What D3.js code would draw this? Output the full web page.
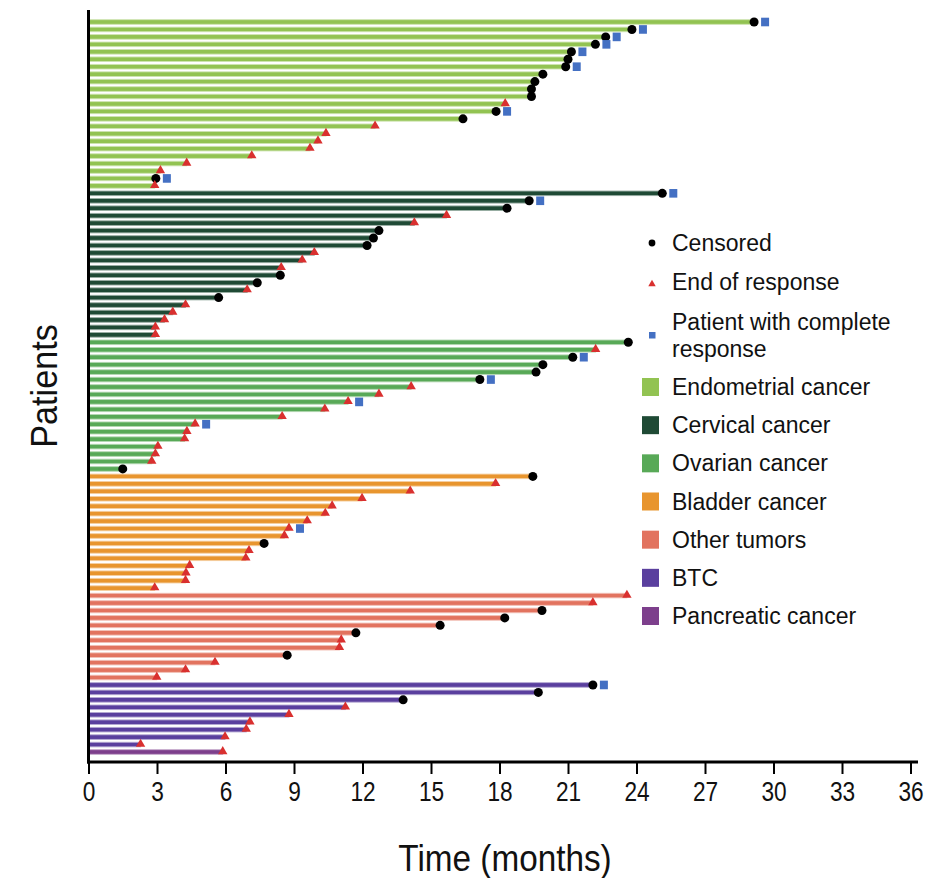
<!DOCTYPE html>
<html>
<head>
<meta charset="utf-8">
<script src="https://cdn.jsdelivr.net/npm/d3@7"></script>
<style>
  html, body { margin: 0; padding: 0; background: #fff; }
  svg { display: block; }
  .tick text { font-family: "Liberation Sans", Arial, sans-serif; }
</style>
</head>
<body>
<svg id="chart" width="935" height="878"></svg>
<script>
// ---------- DATA ----------
const groupNames = ["Endometrial cancer", "Cervical cancer", "Ovarian cancer", "Bladder cancer", "Other tumors", "BTC", "Pancreatic cancer"];
const groupColors = ["#92c352", "#1f4a35", "#58a957", "#e8952e", "#e2735f", "#5a3f9e", "#7d3f8c"];

// duration in months; event: "c" = censored, "t" = end of response; cr: 1 = complete response
const endometrialMonths = [29.15, 23.8, 22.65, 22.2, 21.15, 21.0, 20.9, 19.9, 19.55, 19.4, 19.4, 18.25, 17.85, 16.4, 12.55, 10.4, 10.05, 9.7, 7.15, 4.3, 3.15, 2.95, 2.9];
const endometrialEvent  = ["c","c","c","c","c","c","c","c","c","c","c","t","c","c","t","t","t","t","t","t","t","c","t"];
const endometrialCR     = [1,1,1,1,1,0,1,0,0,0,0,0,1,0,0,0,0,0,0,0,0,1,0];

const cervicalMonths = [25.13, 19.3, 18.33, 15.68, 14.27, 12.72, 12.48, 12.2, 9.89, 9.36, 8.44, 8.4, 7.39, 6.95, 5.7, 4.25, 3.69, 3.33, 2.93, 2.93];
const cervicalEvent  = ["c","c","c","t","t","c","c","c","t","t","t","c","c","t","c","t","t","t","t","t"];
const cervicalCR     = [1,1,0,0,0,0,0,0,0,0,0,0,0,0,0,0,0,0,0,0];

const ovarianMonths = [23.64, 22.21, 21.21, 19.9, 19.6, 17.14, 14.13, 12.72, 11.37, 10.35, 8.48, 4.67, 4.31, 4.21, 3.04, 2.93, 2.77, 1.5];
const ovarianEvent  = ["c","t","c","c","c","c","t","t","t","t","t","t","t","t","t","t","t","c"];
const ovarianCR     = [0,0,1,0,0,1,0,0,1,0,0,1,0,0,0,0,0,0];

const bladderMonths = [19.46, 17.83, 14.09, 11.98, 10.67, 10.37, 9.58, 8.78, 8.58, 7.69, 7.03, 6.89, 4.43, 4.27, 4.25, 2.9];
const bladderEvent  = ["c","t","t","t","t","t","t","t","t","c","t","t","t","t","t","t"];
const bladderCR     = [0,0,0,0,0,0,0,1,0,0,0,0,0,0,0,0];

const otherMonths = [23.58, 22.09, 19.86, 18.23, 15.4, 11.71, 11.07, 10.99, 8.7, 5.54, 4.25, 2.99];
const otherEvent  = ["t","t","c","c","c","c","t","t","c","t","t","t"];
const otherCR     = [0,0,0,0,0,0,0,0,0,0,0,0];

const btcMonths = [22.09, 19.7, 13.78, 11.25, 8.78, 7.07, 6.91, 5.98, 2.28];
const btcEvent  = ["c","c","c","t","t","t","t","t","t"];
const btcCR     = [1,0,0,0,0,0,0,0,0];

const pancreaticMonths = [5.88];
const pancreaticEvent  = ["t"];
const pancreaticCR     = [0];

const xTicks = [0, 3, 6, 9, 12, 15, 18, 21, 24, 27, 30, 33, 36];
const markerLegend = ["Censored", "End of response", "Patient with complete response"];

// ---------- BUILD ROWS ----------
const groupData = [
  [endometrialMonths, endometrialEvent, endometrialCR],
  [cervicalMonths, cervicalEvent, cervicalCR],
  [ovarianMonths, ovarianEvent, ovarianCR],
  [bladderMonths, bladderEvent, bladderCR],
  [otherMonths, otherEvent, otherCR],
  [btcMonths, btcEvent, btcCR],
  [pancreaticMonths, pancreaticEvent, pancreaticCR]
];
const rows = [];
groupData.forEach((g, gi) => {
  g[0].forEach((m, i) => {
    rows.push({ id: rows.length, group: gi, months: m, event: g[1][i], cr: g[2][i] });
  });
});

// ---------- SCALES ----------
const svg = d3.select("#chart");
const x = d3.scaleLinear().domain([0, 36]).range([88.5, 910.5]);
const y = d3.scalePoint().domain(rows.map(d => d.id)).range([22, 752]);
const color = d3.scaleOrdinal().domain(d3.range(groupNames.length)).range(groupColors);

// ---------- BARS ----------
const barH = 4.6;
svg.append("g").selectAll("rect")
  .data(rows).join("rect")
  .attr("x", x(0))
  .attr("y", d => y(d.id) - barH / 2)
  .attr("width", d => x(d.months) - x(0))
  .attr("height", barH)
  .attr("fill", d => color(d.group))
  .attr("stroke", d => d3.interpolateRgb(color(d.group), "#ffffff")(0.55))
  .attr("stroke-width", 0.9);

// ---------- MARKERS ----------
const markers = svg.append("g");
markers.selectAll("circle")
  .data(rows.filter(d => d.event === "c")).join("circle")
  .attr("cx", d => x(d.months))
  .attr("cy", d => y(d.id))
  .attr("r", 4.5)
  .attr("fill", "#000");

const triSym = d3.symbol().type(d3.symbolTriangle).size(38);
markers.selectAll("path.tri")
  .data(rows.filter(d => d.event === "t")).join("path")
  .attr("class", "tri")
  .attr("d", triSym)
  .attr("transform", d => `translate(${x(d.months)},${y(d.id) - 0.5})`)
  .attr("fill", "#d9302f");

markers.selectAll("rect.cr")
  .data(rows.filter(d => d.cr === 1)).join("rect")
  .attr("class", "cr")
  .attr("x", d => x(d.months) + 11 - 4)
  .attr("y", d => y(d.id) - 4.3)
  .attr("width", 8)
  .attr("height", 8.6)
  .attr("fill", "#4470c3");

// ---------- AXES ----------
const xAxis = d3.axisBottom(x).tickValues(xTicks).tickSize(12).tickPadding(8).tickSizeOuter(0);
const gx = svg.append("g").attr("transform", "translate(0,762)").call(xAxis);
gx.select(".domain").remove();
gx.selectAll(".tick line").attr("stroke", "#000").attr("stroke-width", 2);
gx.selectAll(".tick text")
  .attr("font-size", 27).attr("fill", "#111")
  .attr("transform", "scale(0.84,1)");

svg.append("line").attr("x1", 87).attr("x2", 918).attr("y1", 762).attr("y2", 762)
  .attr("stroke", "#000").attr("stroke-width", 3);
svg.append("line").attr("x1", 88.5).attr("x2", 88.5).attr("y1", 10).attr("y2", 763.5)
  .attr("stroke", "#000").attr("stroke-width", 3);

// axis titles
svg.append("text")
  .attr("transform", "translate(505,871) scale(0.9,1)")
  .attr("text-anchor", "middle")
  .attr("font-family", "'Liberation Sans', Arial, sans-serif")
  .attr("font-size", 37).attr("fill", "#111")
  .text("Time (months)");
svg.append("text")
  .attr("transform", "translate(57,386) rotate(-90) scale(0.95,1)")
  .attr("text-anchor", "middle")
  .attr("font-family", "'Liberation Sans', Arial, sans-serif")
  .attr("font-size", 36).attr("fill", "#111")
  .text("Patients");

// ---------- LEGEND ----------
const lg = svg.append("g").attr("font-family", "'Liberation Sans', Arial, sans-serif").attr("font-size", 23).attr("fill", "#111");
lg.append("circle").attr("cx", 652).attr("cy", 243).attr("r", 3.4).attr("fill", "#000");
lg.append("text").attr("x", 672).attr("y", 251).text(markerLegend[0]);
lg.append("path").attr("d", d3.symbol().type(d3.symbolTriangle).size(24)).attr("transform", "translate(652,284)").attr("fill", "#d9302f");
lg.append("text").attr("x", 672).attr("y", 290).text(markerLegend[1]);
lg.append("rect").attr("x", 649).attr("y", 332).attr("width", 6.5).attr("height", 6.5).attr("fill", "#4470c3");
const crWords = markerLegend[2].split(" ");
lg.append("text").attr("x", 672).attr("y", 330).text(crWords.slice(0, 3).join(" "));
lg.append("text").attr("x", 672).attr("y", 357).text(crWords.slice(3).join(" "));

const legendY = d3.scaleLinear().domain([0, groupNames.length - 1]).range([387, 616]);
groupNames.forEach((name, i) => {
  lg.append("rect").attr("x", 642).attr("y", legendY(i) - 9).attr("width", 17).attr("height", 18).attr("fill", groupColors[i]);
  lg.append("text").attr("x", 672).attr("y", legendY(i) + 8).text(name);
});
</script>
</body>
</html>
